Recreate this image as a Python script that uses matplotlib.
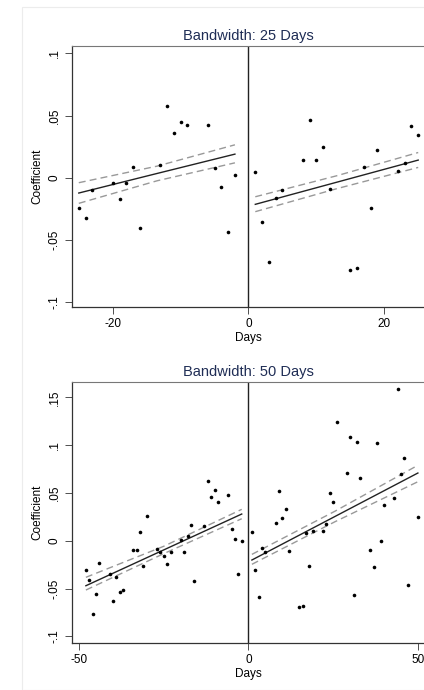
import numpy as np
import matplotlib
matplotlib.use("Agg")
import matplotlib.pyplot as plt
from matplotlib.patches import Rectangle

plt.rcParams['font.family'] = ['Liberation Sans', 'DejaVu Sans']
plt.rcParams['axes.unicode_minus'] = False

# ---- Bandwidth 25, left of cutoff
bw25_left_x = [-25, -24, -23, -20, -19, -18, -17, -16, -13, -12, -11, -10, -9, -6, -5, -4, -3, -2]
bw25_left_y = [-0.0246, -0.0324, -0.0102, -0.004, -0.0174, -0.004, 0.0086, -0.0404, 0.0104,
               0.0576, 0.0356, 0.0447, 0.0426, 0.0426, 0.0078, -0.0072, -0.0434, 0.0022]
# ---- Bandwidth 25, right of cutoff
bw25_right_x = [1, 2, 3, 4, 5, 8, 9, 10, 11, 12, 15, 16, 17, 18, 19, 22, 23, 24, 25]
bw25_right_y = [0.0043, -0.0353, -0.0677, -0.0163, -0.0096, 0.0139, 0.0466, 0.0145, 0.0249,
                -0.0088, -0.0739, -0.0723, 0.0088, -0.0243, 0.0225, 0.0056, 0.012, 0.0418, 0.0343]

# fitted lines and 95% CI
bw25_fitl_x = [-25, -13.5, -2]
bw25_fitl_y = [-0.0123, 0.0034, 0.019]
bw25_fitl_lo = [-0.0206, -0.0025, 0.012]
bw25_fitl_hi = [-0.004, 0.0093, 0.0265]
bw25_fitr_x = [1, 13, 25]
bw25_fitr_y = [-0.0214, -0.0036, 0.0142]
bw25_fitr_lo = [-0.0273, -0.0088, 0.0083]
bw25_fitr_hi = [-0.0153, 0.0016, 0.0203]

# ---- Bandwidth 50, left of cutoff
bw50_left_x = [-48, -47, -46, -45, -44, -41, -40, -39, -38, -37, -34, -33, -32, -31, -30,
               -27, -26, -25, -24, -23, -20, -19, -18, -17, -16, -13, -12, -11, -10, -9,
               -6, -5, -4, -3, -2]
bw50_left_y = [-0.0306, -0.0411, -0.0767, -0.0558, -0.0233, -0.0345, -0.0634, -0.038, -0.0537,
               -0.0512, -0.0094, -0.0094, 0.0088, -0.0268, 0.026, -0.0087, -0.0121, -0.0157,
               -0.024, -0.0121, 0.001, -0.0121, 0.0052, 0.0167, -0.0425, 0.0154, 0.0628,
               0.0454, 0.0533, 0.0405, 0.0475, 0.0126, 0.0021, -0.0348, -0.0003]
# ---- Bandwidth 50, right of cutoff
bw50_right_x = [1, 2, 3, 4, 5, 8, 9, 10, 11, 12, 15, 16, 17, 18, 19, 22, 23, 24, 25, 26,
                29, 30, 31, 32, 33, 36, 37, 38, 39, 40, 43, 44, 45, 46, 47, 50]
bw50_right_y = [0.0088, -0.0306, -0.0589, -0.008, -0.0115, 0.0185, 0.0517, 0.0239, 0.0335,
                -0.0111, -0.0694, -0.068, 0.008, -0.0261, 0.0105, 0.0105, 0.0175, 0.0499,
                0.0408, 0.1242, 0.0705, 0.1081, -0.0568, 0.1036, 0.0659, -0.0094, -0.0272,
                0.1022, 0.0, 0.0377, 0.0443, 0.159, 0.0694, 0.0868, -0.0467, 0.0251]

bw50_fitl_x = [-48, -25, -2]
bw50_fitl_y = [-0.0471, -0.0096, 0.0279]
bw50_fitl_lo = [-0.0516, -0.0135, 0.023]
bw50_fitl_hi = [-0.0383, -0.0058, 0.0328]
bw50_fitr_x = [1, 25.5, 50]
bw50_fitr_y = [-0.0202, 0.0253, 0.0708]
bw50_fitr_lo = [-0.0247, 0.0198, 0.0617]
bw50_fitr_hi = [-0.0143, 0.0308, 0.0789]

panels = [
    dict(title="Bandwidth: 25 Days", xlim=(-26, 26), ylim=(-0.104, 0.106),
         xticks=[-20, 0, 20], yticks=[-0.1, -0.05, 0, 0.05, 0.1],
         ylabels=["-.1", "-.05", "0", ".05", ".1"],
         left=(bw25_left_x, bw25_left_y), right=(bw25_right_x, bw25_right_y),
         fits=[(bw25_fitl_x, bw25_fitl_y, bw25_fitl_lo, bw25_fitl_hi),
               (bw25_fitr_x, bw25_fitr_y, bw25_fitr_lo, bw25_fitr_hi)],
         pos=[72 / 424, 1 - 307 / 690, 353 / 424, 261 / 690]),
    dict(title="Bandwidth: 50 Days", xlim=(-52.1, 52.1), ylim=(-0.107, 0.166),
         xticks=[-50, 0, 50], yticks=[-0.1, -0.05, 0, 0.05, 0.1, 0.15],
         ylabels=["-.1", "-.05", "0", ".05", ".1", ".15"],
         left=(bw50_left_x, bw50_left_y), right=(bw50_right_x, bw50_right_y),
         fits=[(bw50_fitl_x, bw50_fitl_y, bw50_fitl_lo, bw50_fitl_hi),
               (bw50_fitr_x, bw50_fitr_y, bw50_fitr_lo, bw50_fitr_hi)],
         pos=[72 / 424, 1 - 643 / 690, 353 / 424, 261 / 690]),
]

fig = plt.figure(figsize=(4.24, 6.9), dpi=100)
fig.patches.append(Rectangle((22 / 424, 0), 1.0, 1 - 7 / 690, transform=fig.transFigure,
                             fill=False, edgecolor='#ececec', linewidth=0.8))

for p in panels:
    ax = fig.add_axes(p['pos'])
    ax.set_xlim(*p['xlim'])
    ax.set_ylim(*p['ylim'])
    for fx, fy, lo, hi in p['fits']:
        ax.plot(fx, lo, color='#999999', lw=1.0, ls=(0, (5, 3)))
        ax.plot(fx, hi, color='#999999', lw=1.0, ls=(0, (5, 3)))
        ax.plot(fx, fy, color='#222222', lw=1.0)
    for xs, ys in (p['left'], p['right']):
        ax.plot(xs, ys, 'o', color='black', markersize=2.6, markeredgewidth=0)
    ax.axvline(0, color='#222222', lw=1.0)
    ax.set_xticks(p['xticks'])
    ax.set_yticks(p['yticks'])
    ax.set_yticklabels(p['ylabels'], rotation=90, va='center')
    ax.tick_params(axis='both', labelsize=8.5, length=5, width=0.6, color='#333333', pad=3)
    ax.set_xlabel("Days", fontsize=8.5, labelpad=1)
    ax.set_ylabel("Coefficient", fontsize=8.5, labelpad=4)
    ax.set_title(p['title'], fontsize=10.5, color='#1f2d55', pad=4)
    for s in ('left', 'bottom'):
        ax.spines[s].set_color('#333333')
        ax.spines[s].set_linewidth(0.9)
    ax.spines['top'].set_color('#777777')
    ax.spines['top'].set_linewidth(0.8)
    ax.spines['right'].set_visible(False)

fig.savefig("out.png", dpi=100)
